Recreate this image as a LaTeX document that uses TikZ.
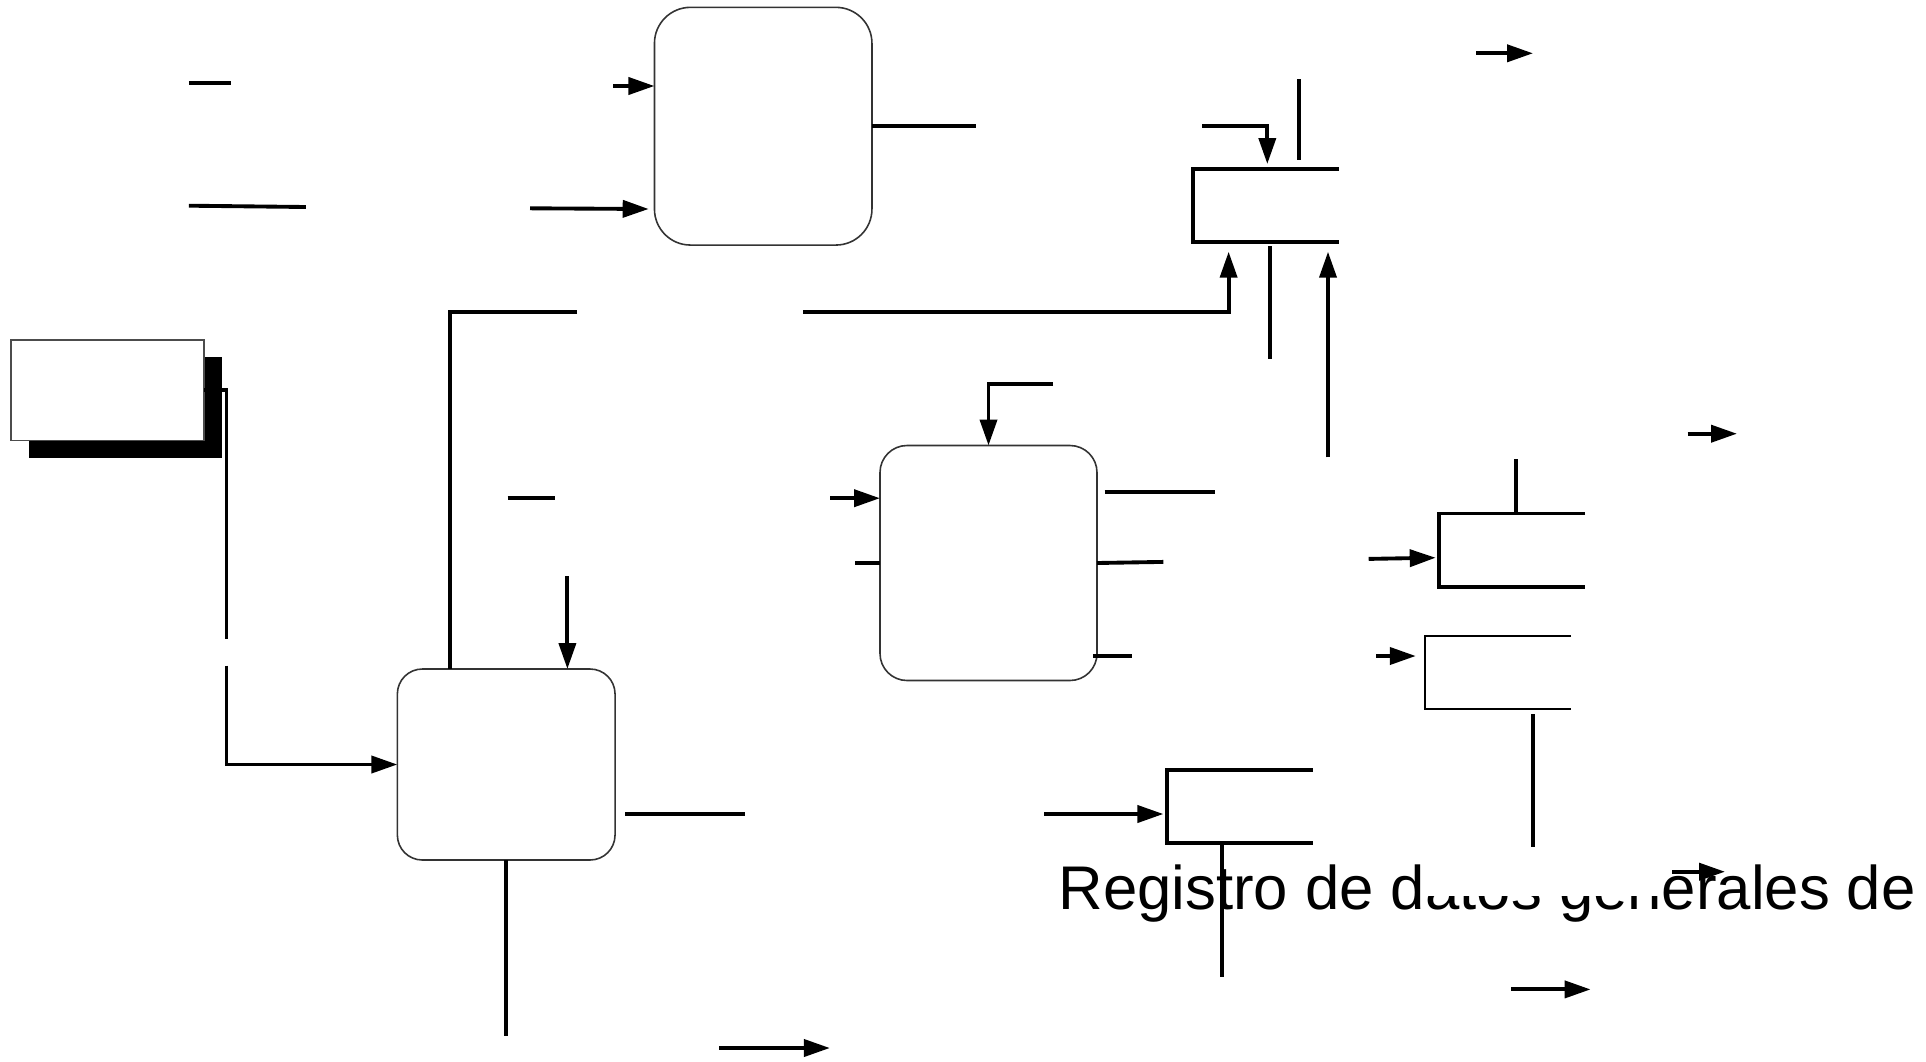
\documentclass[tikz,border=0pt]{standalone}
\usepackage{fontspec}
\setmainfont{Liberation Sans}
\usetikzlibrary{arrows.meta,shadows}

\begin{document}
\begin{tikzpicture}[auto,
    process/.style ={rectangle, draw=black!80, line width=0.45pt, inner sep=0pt, outer sep=0pt},
    entity/.style ={rectangle, draw=black!70, line width=0.45pt, fill=white, inner sep=0pt, outer sep=0pt,
        minimum width=1.93cm, minimum height=1.007cm,
        drop shadow={shadow xshift=0.175cm, shadow yshift=-0.175cm, fill=black, opacity=1}},
    store/.style ={rectangle, inner sep=0pt, outer sep=0pt, minimum width=1.46cm, minimum height=0.733cm},
    line/.style ={line width=1.1pt},
    flow/.style ={line width=1.1pt, -{Triangle[length=0.26cm, width=0.17cm]}}]
   \useasboundingbox (0,0) rectangle (19.26,10.61);
   \node[entity] (E) at (1.075,6.707) {};
   \node[process, rounded corners=0.36cm, minimum width=2.175cm, minimum height=2.377cm] (A) at (7.632,9.348) {};
   \node[process, rounded corners=0.27cm, minimum width=2.17cm, minimum height=2.35cm] (B) at (9.885,4.98) {};
   \node[process, rounded corners=0.25cm, minimum width=2.177cm, minimum height=1.91cm] (C) at (5.062,2.965) {};
   \node[store] (D1) at (12.66,8.554) {};
   \node[store] (D2) at (15.12,5.108) {};
   \node[store] (D3) at (14.98,3.888) {};
   \node[store] (D4) at (12.399,2.546) {};
   \node[anchor=base west, inner sep=0pt, font=\fontsize{17.55}{21}\selectfont] (T) at (10.578,1.515) {Registro de datos generales de};

   \coordinate (a1) at (1.888,9.783);
   \coordinate (a2) at (2.308,9.783);
   \coordinate (b1) at (1.888,8.553);
   \coordinate (b2) at (3.058,8.54);
   \coordinate (c1) at (6.13,9.75);
   \coordinate (d1) at (5.30,8.527);
   \coordinate (d2) at (6.487,8.52);
   \coordinate (e1) at (9.755,9.348);
   \coordinate (f1) at (12.02,9.35);
   \coordinate (f2) at (12.673,8.97);
   \coordinate (g1) at (12.99,9.817);
   \coordinate (g2) at (12.99,9.01);
   \coordinate (h1) at (5.77,7.493);
   \coordinate (h2) at (4.496,0);
   \coordinate (i1) at (8.03,7.493);
   \coordinate (i2) at (12.286,8.093);
   \coordinate (j1) at (12.699,8.15);
   \coordinate (j2) at (12.699,7.017);
   \coordinate (k1) at (13.28,6.037);
   \coordinate (k2) at (13.28,8.093);
   \coordinate (l1) at (10.53,6.767);
   \coordinate (m1) at (8.30,5.628);
   \coordinate (n1) at (8.55,4.98);
   \coordinate (o1) at (11.045,5.691);
   \coordinate (o2) at (12.147,5.691);
   \coordinate (p1) at (11.634,4.991);
   \coordinate (q1) at (10.929,4.051);
   \coordinate (q2) at (11.317,4.051);
   \coordinate (r1) at (13.687,5.021);
   \coordinate (r2) at (14.357,5.033);
   \coordinate (s1) at (15.156,6.016);
   \coordinate (t1) at (13.76,4.05);
   \coordinate (t2) at (14.158,4.05);
   \coordinate (u1) at (15.33,3.47);
   \coordinate (u2) at (15.33,2.141);
   \coordinate (v1) at (16.876,6.273);
   \coordinate (v2) at (17.37,6.273);
   \coordinate (w1) at (14.76,10.077);
   \coordinate (w2) at (15.33,10.077);
   \coordinate (x1) at (2.265,4.22);
   \coordinate (x2) at (2.265,3.954);
   \coordinate (y1) at (6.25,2.47);
   \coordinate (y2) at (7.446,2.47);
   \coordinate (z1) at (10.442,2.47);
   \coordinate (z2) at (11.634,2.47);
   \coordinate (aa1) at (12.223,2.162);
   \coordinate (aa2) at (12.223,0.843);
   \coordinate (bb1) at (5.062,0.253);
   \coordinate (cc1) at (7.19,0.13);
   \coordinate (cc2) at (8.299,0.13);
   \coordinate (dd1) at (15.11,0.716);
   \coordinate (dd2) at (15.906,0.716);
   \coordinate (ee1) at (16.72,1.893);
   \coordinate (ee2) at (17.25,1.893);
   \coordinate (ff1) at (5.076,5.628);
   \coordinate (ff2) at (5.55,5.628);
   \coordinate (gg1) at (5.674,4.848);

   \draw[line] (D1.north east) -- (D1.north west) -- (D1.south west) -- (D1.south east);
   \draw[line] (D2.north east) -- (D2.north west) -- (D2.south west) -- (D2.south east);
   \draw[line width=0.6pt] (D3.north east) -- (D3.north west) -- (D3.south west) -- (D3.south east);
   \draw[line] (D4.north east) -- (D4.north west) -- (D4.south west) -- (D4.south east);

   \draw[line] (a1) to (a2);
   \draw[line] (b1) to (b2);
   \draw[flow] (c1) to (c1 -| A.west);
   \draw[flow] (d1) to (d2);
   \draw[line] (A.east) to (e1);
   \draw[flow] (f1) -| (f2);
   \draw[line] (g1) to (g2);
   \draw[line] (h1) -| (h2 |- C.north);
   \draw[flow] (i1) -| (i2);
   \draw[line] (j1) to (j2);
   \draw[flow] (k1) to (k2);
   \draw[flow] (l1) -| (B.north);
   \draw[flow] (m1) to (m1 -| B.west);
   \draw[line] (n1) to (B.west);
   \draw[line] (o1) to (o2);
   \draw[line] (B.east) to (p1);
   \draw[line] (q1) to (q2);
   \draw[flow] (r1) to (r2);
   \draw[line] (s1) to (s1 |- D2.north);
   \draw[flow] (t1) to (t2);
   \draw[line] (u1) to (u2);
   \draw[flow] (v1) to (v2);
   \draw[flow] (w1) to (w2);
   \draw[line] (E.east) -| (x1);
   \draw[flow] (x2) |- (C.west);
   \draw[line] (y1) to (y2);
   \draw[flow] (z1) to (z2);
   \draw[line] (aa1) to (aa2);
   \draw[line] (C.south) to (bb1);
   \draw[flow] (cc1) to (cc2);
   \draw[flow] (dd1) to (dd2);
   \fill[white] (14.255,1.65) rectangle (16.62,2.06);
   \draw[flow] (ee1) to (ee2);
   \draw[line] (ff1) to (ff2);
   \draw[flow] (gg1) to (gg1 |- C.north);
 \end{tikzpicture}
\end{document}
